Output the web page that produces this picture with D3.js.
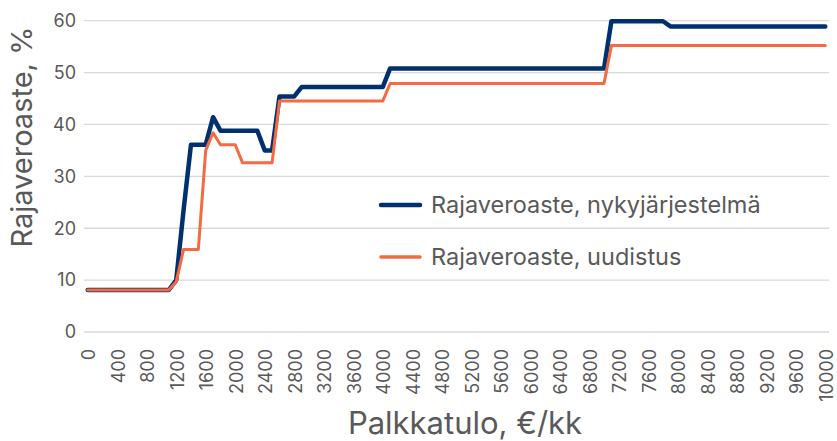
<!DOCTYPE html>
<html>
<head>
<meta charset="utf-8">
<script src="https://cdn.jsdelivr.net/npm/d3@7"></script>
<style>
  body { margin: 0; background: #fff; }
  text { font-family: Inter, "Open Sans", sans-serif; fill: #595959; }
</style>
</head>
<body>
<div id="chart"></div>
<script>
// monthly wage categories 0..10000 step 100
var categories = [];
for (var c = 0; c <= 10000; c += 100) categories.push(c);

// marginal tax rate, current system (%)
var current = [
  8.1, 8.1, 8.1, 8.1, 8.1, 8.1, 8.1, 8.1, 8.1, 8.1, 8.1, 8.1,      // 0-1100
  10.0, 23.5, 36.1, 36.1, 36.1, 41.4, 38.8, 38.8, 38.8, 38.8, 38.8, 38.8, // 1200-2300
  35.0, 35.0, 45.4, 45.4, 45.4,                                    // 2400-2800
  47.2, 47.2, 47.2, 47.2, 47.2, 47.2, 47.2, 47.2, 47.2, 47.2, 47.2, 47.2, // 2900-4000
  50.8, 50.8, 50.8, 50.8, 50.8, 50.8, 50.8, 50.8, 50.8, 50.8,      // 4100-5000
  50.8, 50.8, 50.8, 50.8, 50.8, 50.8, 50.8, 50.8, 50.8, 50.8,      // 5100-6000
  50.8, 50.8, 50.8, 50.8, 50.8, 50.8, 50.8, 50.8, 50.8, 50.8,      // 6100-7000
  59.9, 59.9, 59.9, 59.9, 59.9, 59.9, 59.9, 59.9,                  // 7100-7800
  58.9, 58.9, 58.9, 58.9, 58.9, 58.9, 58.9, 58.9, 58.9, 58.9, 58.9, // 7900-8900
  58.9, 58.9, 58.9, 58.9, 58.9, 58.9, 58.9, 58.9, 58.9, 58.9, 58.9  // 9000-10000
];

// marginal tax rate, reform (%)
var reform = [
  8.1, 8.1, 8.1, 8.1, 8.1, 8.1, 8.1, 8.1, 8.1, 8.1, 8.1, 8.1,      // 0-1100
  9.7, 15.9, 15.9, 15.9, 35.0, 38.4, 36.1, 36.1, 36.1,             // 1200-2000
  32.6, 32.6, 32.6, 32.6, 32.6,                                    // 2100-2500
  44.5, 44.5, 44.5, 44.5, 44.5, 44.5, 44.5, 44.5,                  // 2600-3300
  44.5, 44.5, 44.5, 44.5, 44.5, 44.5, 44.5,                        // 3400-4000
  47.9, 47.9, 47.9, 47.9, 47.9, 47.9, 47.9, 47.9, 47.9, 47.9,      // 4100-5000
  47.9, 47.9, 47.9, 47.9, 47.9, 47.9, 47.9, 47.9, 47.9, 47.9,      // 5100-6000
  47.9, 47.9, 47.9, 47.9, 47.9, 47.9, 47.9, 47.9, 47.9, 47.9,      // 6100-7000
  55.2, 55.2, 55.2, 55.2, 55.2, 55.2, 55.2, 55.2, 55.2, 55.2,      // 7100-8000
  55.2, 55.2, 55.2, 55.2, 55.2, 55.2, 55.2, 55.2, 55.2, 55.2,      // 8100-9000
  55.2, 55.2, 55.2, 55.2, 55.2, 55.2, 55.2, 55.2, 55.2, 55.2       // 9100-10000
];

var yTicks = [0, 10, 20, 30, 40, 50, 60];
var seriesNames = ["Rajaveroaste, nykyjärjestelmä", "Rajaveroaste, uudistus"];
var seriesColors = ["#00306e", "#f46a43"];

var width = 837, height = 441;

var svg = d3.select("#chart").append("svg")
    .attr("width", width)
    .attr("height", height);

var x = d3.scaleBand()
    .domain(categories)
    .range([84, 829]);

var y = d3.scaleLinear()
    .domain([0, 60])
    .range([332, 20.7]);

function cx(d) { return x(d) + x.bandwidth() / 2; }

// gridlines
svg.append("g").selectAll("line")
    .data(yTicks)
    .enter().append("line")
    .attr("x1", 84).attr("x2", 829)
    .attr("y1", function (d) { return y(d); })
    .attr("y2", function (d) { return y(d); })
    .attr("stroke", "#d9d9d9")
    .attr("stroke-width", 1.3);

// y tick labels
svg.append("g").selectAll("text")
    .data(yTicks)
    .enter().append("text")
    .attr("x", 76)
    .attr("y", function (d) { return y(d); })
    .attr("dy", "0.35em")
    .attr("text-anchor", "end")
    .style("font-size", "18px")
    .text(function (d) { return d; });

// x tick labels every 400
svg.append("g").selectAll("text")
    .data(categories.filter(function (d) { return d % 400 === 0; }))
    .enter().append("text")
    .attr("transform", function (d) { return "translate(" + (cx(d) + 1) + ",349) rotate(-90)"; })
    .attr("dy", "0.35em")
    .attr("text-anchor", "end")
    .style("font-size", "18px")
    .text(function (d) { return d; });

// axis titles
svg.append("text")
    .attr("x", 465)
    .attr("y", 434)
    .attr("text-anchor", "middle")
    .style("font-size", "31px")
    .text("Palkkatulo, €/kk");

svg.append("text")
    .attr("transform", "translate(32,137) rotate(-90)")
    .attr("text-anchor", "middle")
    .style("font-size", "29px")
    .text("Rajaveroaste, %");

// lines
var line = d3.line()
    .x(function (d, i) { return cx(categories[i]); })
    .y(function (d) { return y(d); });

[current, reform].forEach(function (s, k) {
    svg.append("path")
        .datum(s)
        .attr("d", line)
        .attr("fill", "none")
        .attr("stroke", seriesColors[k])
        .attr("stroke-width", k === 0 ? 4.5 : 3)
        .attr("stroke-linejoin", "round")
        .attr("stroke-linecap", "round");
});

// legend
var legend = svg.append("g").selectAll("g")
    .data(seriesNames)
    .enter().append("g")
    .attr("transform", function (d, i) { return "translate(381," + (205 + i * 52) + ")"; });

legend.append("line")
    .attr("x1", 0).attr("x2", 39)
    .attr("stroke", function (d, i) { return seriesColors[i]; })
    .attr("stroke-width", function (d, i) { return i === 0 ? 4.5 : 3.5; })
    .attr("stroke-linecap", "round");

legend.append("text")
    .attr("x", 50)
    .attr("dy", "0.35em")
    .style("font-size", "23.5px")
    .text(function (d) { return d; });
</script>
</body>
</html>
